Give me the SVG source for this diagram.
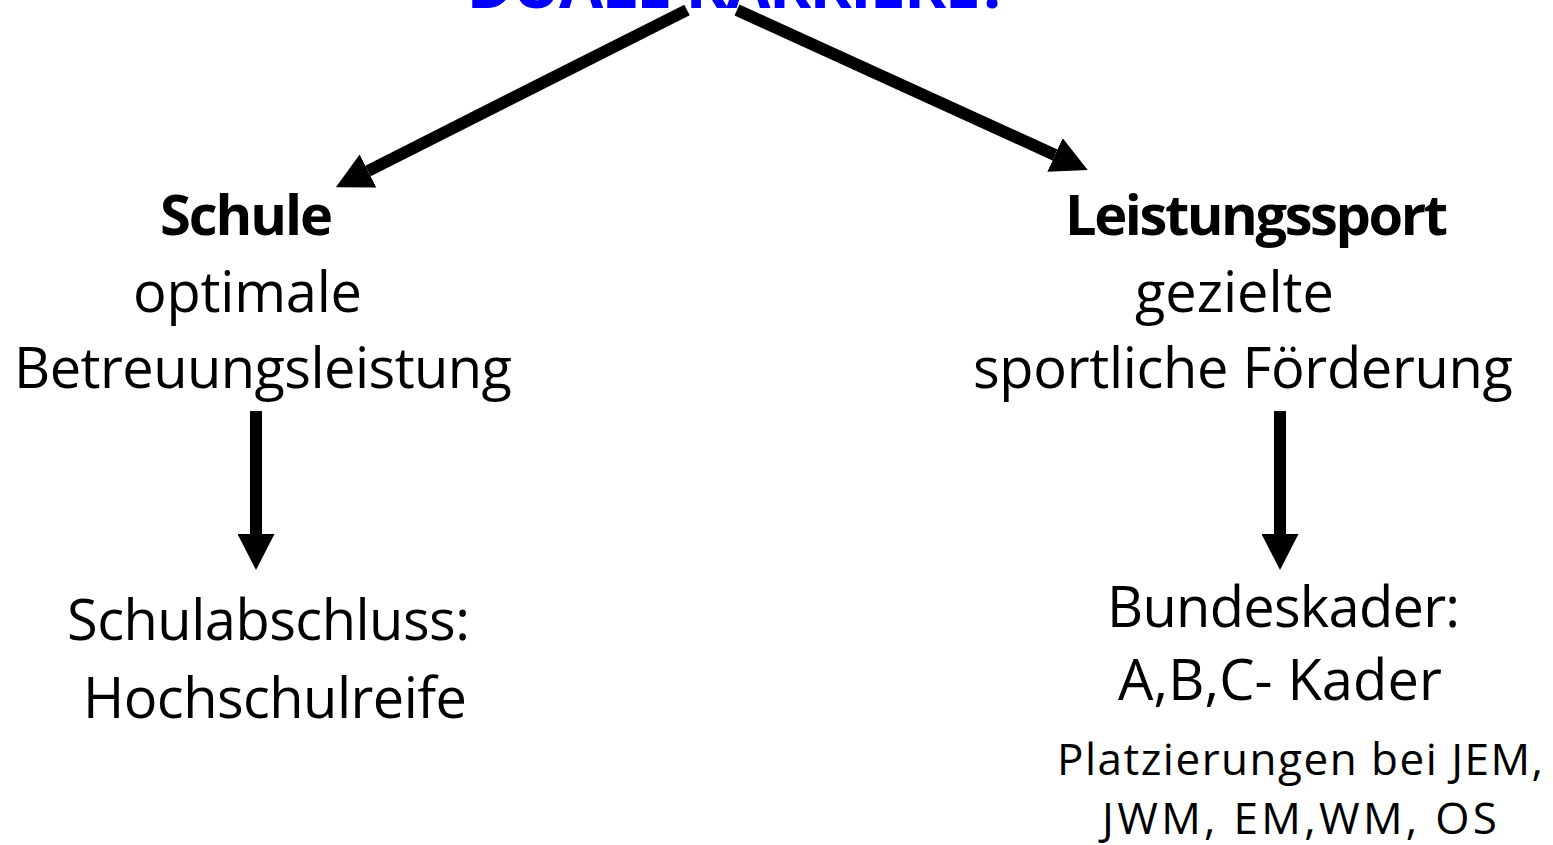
<svg xmlns="http://www.w3.org/2000/svg" width="1553" height="845" viewBox="0 0 1553 845">
  <style>
    .t { font-family: "Open Sans", "Noto Sans", "Liberation Sans", sans-serif; font-size: 56px; fill: #000; text-anchor: middle; }
    .b { font-weight: bold; }
    .s { font-size: 44px; }
    .title { font-family: "Open Sans", "Noto Sans", "Liberation Sans", sans-serif; font-size: 64px; font-weight: bold; fill: #0000FF; text-anchor: middle; }
    .arrow { stroke: #000; stroke-width: 12; fill: none; marker-end: url(#head); }
  </style>
  <defs>
    <marker id="head" viewBox="0 0 36 37" refX="0" refY="18.5" markerWidth="36" markerHeight="37" markerUnits="userSpaceOnUse" orient="auto">
      <path d="M0,0 L36,18.5 L0,37 Z" fill="#000"/>
    </marker>
  </defs>
  <rect width="1553" height="845" fill="#fff"/>

  <g id="title">
    <text class="title" x="738" y="8" textLength="543">DUALE KARRIERE?</text>
  </g>

  <g id="connectors">
    <line class="arrow" x1="687" y1="10" x2="368" y2="171"/>
    <line class="arrow" x1="737" y1="10" x2="1055" y2="155"/>
    <line class="arrow" x1="256" y1="411" x2="256" y2="534"/>
    <line class="arrow" x1="1280" y1="411" x2="1280" y2="534"/>
  </g>

  <g id="schule">
    <text class="t b" x="246.5" y="235" textLength="173">Schule</text>
    <text class="t" x="247.5" y="312" textLength="229">optimale</text>
    <text class="t" x="263" y="388" textLength="498">Betreuungsleistung</text>
  </g>

  <g id="schulabschluss">
    <text class="t" x="268.5" y="640" textLength="403">Schulabschluss:</text>
    <text class="t" x="275" y="718" textLength="384">Hochschulreife</text>
  </g>

  <g id="leistungssport">
    <text class="t b" x="1256.5" y="235" textLength="383">Leistungssport</text>
    <text class="t" x="1234.5" y="312" textLength="199">gezielte</text>
    <text class="t" x="1243" y="388" textLength="540">sportliche Förderung</text>
  </g>

  <g id="bundeskader">
    <text class="t" x="1283.5" y="627" textLength="353">Bundeskader:</text>
    <text class="t" x="1280" y="700" textLength="324">A,B,C- Kader</text>
    <text class="t s" x="1300" y="775" textLength="486">Platzierungen bei JEM,</text>
    <text class="t s" x="1299.5" y="834" textLength="395">JWM, EM,WM, OS</text>
  </g>
</svg>
